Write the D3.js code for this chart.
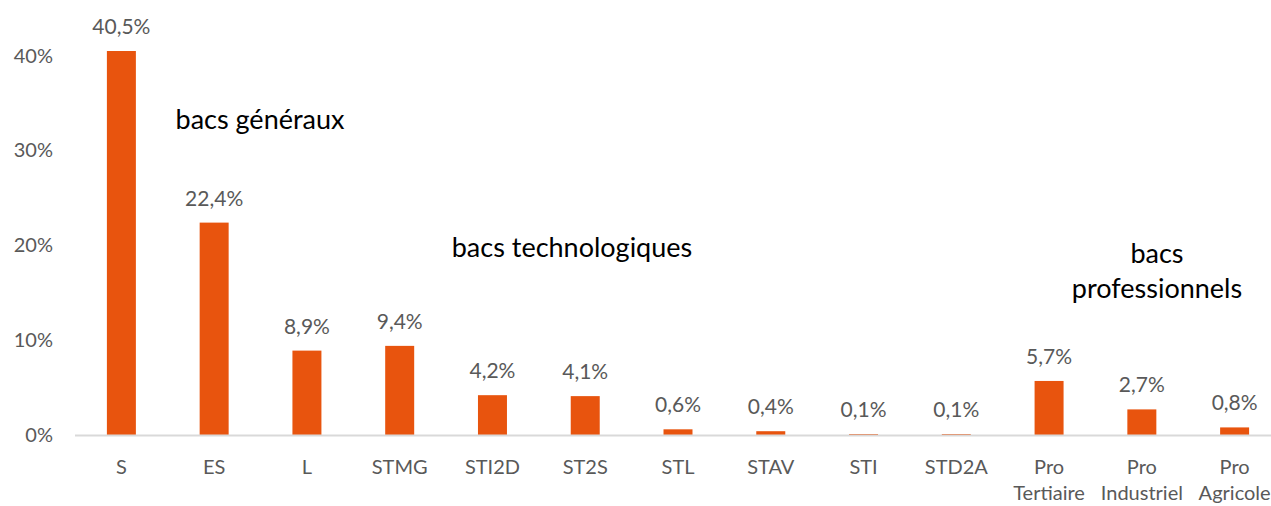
<!DOCTYPE html>
<html>
<head>
<meta charset="utf-8">
<script src="https://cdn.jsdelivr.net/npm/d3@7"></script>
<style>
  body { margin: 0; background: #fff; }
  svg { display: block; font-family: Lato, "Open Sans", sans-serif; }
  .tick text { fill: #595959; font-size: 20px; }
  .valueLabel { fill: #595959; font-size: 21px; }
  .note { fill: #000; font-size: 27px; }
</style>
</head>
<body>
<div id="chart"></div>
<script>
// data
var categories = ["S", "ES", "L", "STMG", "STI2D", "ST2S", "STL", "STAV", "STI", "STD2A",
  "Pro\nTertiaire", "Pro\nIndustriel", "Pro\nAgricole"]
var values = [40.5, 22.4, 8.9, 9.4, 4.2, 4.1, 0.6, 0.4, 0.1, 0.1, 5.7, 2.7, 0.8]
var yTicks = [0, 10, 20, 30, 40]
var notes = [
  { lines: ["bacs généraux"], x: 260, y: 120 },
  { lines: ["bacs technologiques"], x: 572, y: 248 },
  { lines: ["bacs", "professionnels"], x: 1157, y: 254 }
]

var svgWidth = 1271
var svgHeight = 506

var svg = d3.select("#chart")
  .append("svg")
  .attr("width", svgWidth)
  .attr("height", svgHeight)

// scales
var x = d3.scaleBand()
  .domain(categories)
  .range([75, 1281])
  .paddingInner(0.6875)
  .paddingOuter(0.34375)

var y = d3.scaleLinear()
  .domain([0, 40.5])
  .range([435, 51])

// y axis, no line, just labels
var yAxis = svg.append("g")
  .attr("transform", "translate(53,0)")
  .call(d3.axisLeft(y).tickValues(yTicks).tickSize(0).tickPadding(0).tickFormat(d => d + "%"))
  .attr("font-family", null)
  .attr("font-size", null)
yAxis.select(".domain").remove()

// bars
svg.selectAll("rect.bar")
  .data(values)
  .enter()
  .append("rect")
  .attr("class", "bar")
  .attr("x", (d, i) => x(categories[i]))
  .attr("y", d => y(d))
  .attr("width", x.bandwidth())
  .attr("height", d => y(0) - y(d))
  .attr("fill", "#e8540e")

// baseline
svg.append("line")
  .attr("x1", 75)
  .attr("x2", 1290)
  .attr("y1", y(0) + 0.5)
  .attr("y2", y(0) + 0.5)
  .attr("stroke", "#d9d9d9")
  .attr("stroke-width", 2)

// value labels
svg.selectAll("text.valueLabel")
  .data(values)
  .enter()
  .append("text")
  .attr("class", "valueLabel")
  .attr("x", (d, i) => x(categories[i]) + x.bandwidth() / 2)
  .attr("y", d => y(d) - 17)
  .attr("text-anchor", "middle")
  .text(d => String(d.toFixed(1)).replace(".", ",") + "%")

// category labels
var xAxis = svg.append("g")
  .attr("transform", `translate(0, ${y(0)})`)
  .call(d3.axisBottom(x).tickSize(0).tickFormat(""))
  .attr("font-family", null)
  .attr("font-size", null)
xAxis.select(".domain").remove()

xAxis.selectAll(".tick")
  .append("text")
  .attr("text-anchor", "middle")
  .selectAll("tspan")
  .data(d => d.split("\n"))
  .enter()
  .append("tspan")
  .attr("x", 0)
  .attr("y", (d, i) => 39 + i * 26)
  .text(d => d)

// group notes
notes.forEach(function(n) {
  var t = svg.append("text")
    .attr("class", "note")
    .attr("text-anchor", "middle")
  n.lines.forEach(function(line, i) {
    t.append("tspan")
      .attr("x", n.x)
      .attr("y", n.y + 9 + i * 35)
      .text(line)
  })
})
</script>
</body>
</html>
